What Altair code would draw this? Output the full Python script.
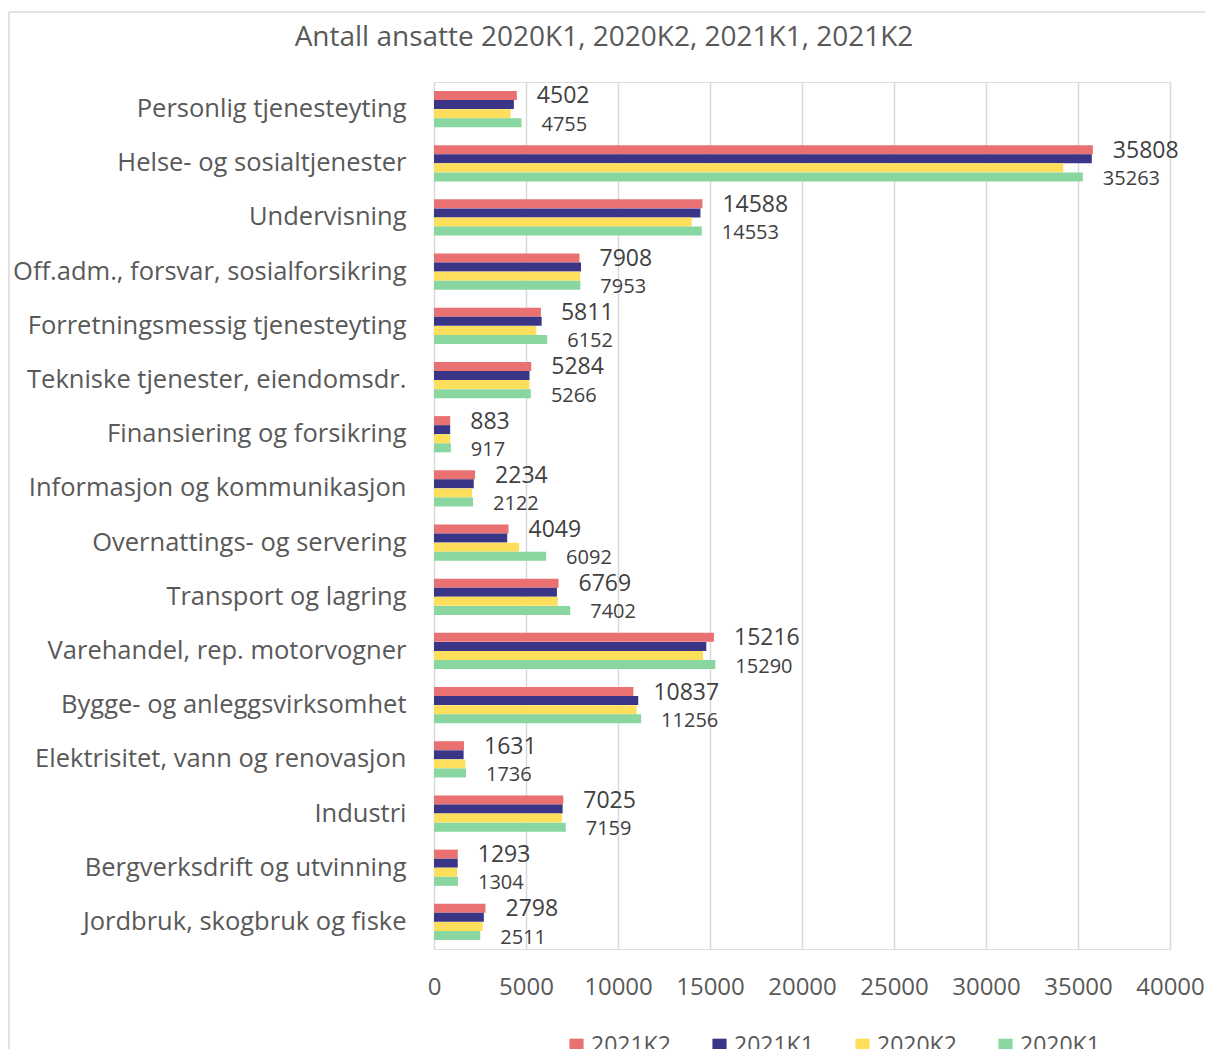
import altair as alt
import pandas as pd

categories = [
    "Personlig tjenesteyting",
    "Helse- og sosialtjenester",
    "Undervisning",
    "Off.adm., forsvar, sosialforsikring",
    "Forretningsmessig tjenesteyting",
    "Tekniske tjenester, eiendomsdr.",
    "Finansiering og forsikring",
    "Informasjon og kommunikasjon",
    "Overnattings- og servering",
    "Transport og lagring",
    "Varehandel, rep. motorvogner",
    "Bygge- og anleggsvirksomhet",
    "Elektrisitet, vann og renovasjon",
    "Industri",
    "Bergverksdrift og utvinning",
    "Jordbruk, skogbruk og fiske",
]
series_names = ["2021K2", "2021K1", "2020K2", "2020K1"]
v_2021K2 = [4502, 35808, 14588, 7908, 5811, 5284, 883, 2234, 4049, 6769, 15216, 10837, 1631, 7025, 1293, 2798]
v_2021K1 = [4340, 35750, 14480, 7990, 5850, 5190, 880, 2160, 3980, 6680, 14800, 11100, 1610, 6990, 1290, 2710]
v_2020K2 = [4160, 34200, 14000, 7940, 5560, 5190, 880, 2070, 4630, 6730, 14620, 11010, 1700, 6950, 1250, 2640]
v_2020K1 = [4755, 35263, 14553, 7953, 6152, 5266, 917, 2122, 6092, 7402, 15290, 11256, 1736, 7159, 1304, 2511]
colors = ["#E97171", "#3A3587", "#FEDF5B", "#89D6A0"]
x_ticks = [0, 5000, 10000, 15000, 20000, 25000, 30000, 35000, 40000]
title_text = "Antall ansatte 2020K1, 2020K2, 2021K1, 2021K2"

rows = []
for name, vals in zip(series_names, [v_2021K2, v_2021K1, v_2020K2, v_2020K1]):
    for c, v in zip(categories, vals):
        rows.append({"kategori": c, "serie": name, "verdi": v})
df = pd.DataFrame(rows)

FONT = "Open Sans"

y_enc = alt.Y("kategori:N", sort=categories, title=None,
              scale=alt.Scale(paddingInner=0.33, paddingOuter=0.165),
              axis=alt.Axis(labelFontSize=25.5, labelColor="#595959", labelFont=FONT,
                            labelPadding=28, ticks=False, domain=False, grid=False,
                            labelLimit=600))
yoff = alt.YOffset("serie:N", sort=series_names, scale=alt.Scale(domain=series_names))
x_enc = alt.X("verdi:Q", title=None,
              scale=alt.Scale(domain=[0, 40000], nice=False),
              axis=alt.Axis(values=x_ticks, labelFontSize=24, labelColor="#595959",
                            labelFont=FONT, labelPadding=26, ticks=False, domain=False,
                            labelFlush=False, labelOverlap=False,
                            grid=True, gridColor="#D9D9D9", gridWidth=1.5, format="d"))

base = alt.Chart(df)

bars = base.mark_bar(size=9).encode(
    y=y_enc,
    yOffset=yoff,
    x=x_enc,
    color=alt.Color("serie:N", sort=series_names,
                    scale=alt.Scale(domain=series_names, range=colors),
                    legend=alt.Legend(title=None, orient="none", direction="horizontal",
                                      legendX=131, legendY=952, symbolType="square",
                                      symbolSize=200, symbolStrokeWidth=0,
                                      labelFontSize=23, labelColor="#595959",
                                      labelFont=FONT, columnPadding=37, labelOffset=3)),
)

lab_top = base.transform_filter(alt.datum.serie == "2021K2").mark_text(
    align="left", baseline="middle", dx=20, dy=1, fontSize=23, font=FONT, color="#404040"
).encode(y=alt.Y("kategori:N", sort=categories), yOffset=yoff, x="verdi:Q",
         text=alt.Text("verdi:Q", format="d"))

lab_bot = base.transform_filter(alt.datum.serie == "2020K1").mark_text(
    align="left", baseline="middle", dx=20, dy=2, fontSize=20, font=FONT, color="#404040"
).encode(y=alt.Y("kategori:N", sort=categories), yOffset=yoff, x="verdi:Q",
         text=alt.Text("verdi:Q", format="d"))

one = pd.DataFrame({"t": [title_text]})

# chart title, centred over the whole chart area
title = alt.Chart(one).mark_text(
    align="center", baseline="middle", fontSize=28, font=FONT, color="#595959"
).encode(text="t:N", x=alt.value(170), y=alt.value(-44))

# light chart-area border (left and top edges), as in the reference
border_left = alt.Chart(one).mark_rule(color="#D9D9D9", strokeWidth=1.5).encode(
    x=alt.value(-425), y=alt.value(-70), y2=alt.value(980))
border_top = alt.Chart(one).mark_rule(color="#D9D9D9", strokeWidth=1.5).encode(
    x=alt.value(-425), x2=alt.value(790), y=alt.value(-70))

chart = alt.layer(border_left, border_top, title, bars, lab_top, lab_bot).properties(
    width=736, height=867,
    autosize=alt.AutoSizeParams(type="none"),
    padding={"left": 426, "top": 74, "right": 35, "bottom": 100},
).configure_view(stroke=None).configure(background="white")

chart.save("out.html", embed_options={"renderer": "svg", "actions": False})
